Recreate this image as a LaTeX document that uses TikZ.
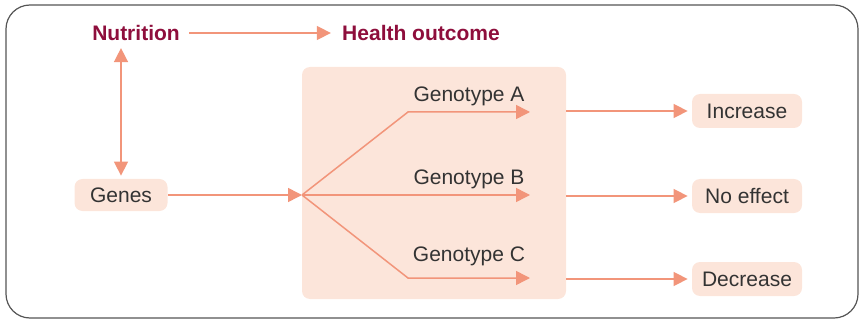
\documentclass[tikz,border=0pt]{standalone}
\usepackage{fontspec}
\setmainfont{Liberation Sans}
\usetikzlibrary{arrows.meta,positioning,calc}
\definecolor{salmon}{HTML}{F2957A}
\definecolor{peach}{HTML}{FCE5DA}
\definecolor{wine}{HTML}{8E0E3C}
\definecolor{ink}{HTML}{333333}
\definecolor{frame}{HTML}{555555}

\tikzset{
  label/.style={font=\fontsize{10.5}{12}\selectfont\bfseries, text=wine, inner sep=0pt},
  tag/.style={font=\fontsize{10.5}{12}\selectfont, text=ink, inner sep=0pt},
  box/.style={fill=peach, rounded corners=4pt, font=\fontsize{10.5}{12}\selectfont, text=ink, inner sep=0pt},
  link/.style={draw=salmon, line width=0.75pt, -{Triangle[length=7pt,width=7pt]}}
}

\begin{document}
\begin{tikzpicture}[x=0.5pt, y=-0.5pt]
    \useasboundingbox (0,0) rectangle (860,320);
    \draw[frame, line width=0.6pt, rounded corners=12pt] (6,5) rectangle (858,318);

    % top row
    \node[label] (nutr) at (136,33) {Nutrition};
    \node[label] (health) at (421,33) {Health outcome};
    \draw[link] ($(nutr.east)+(9,0)$) -- ($(health.west)+(-11,0)$);

    % genes and the genotype panel
    \node[box, minimum width=46.5pt, minimum height=16pt] (genes) at (121,195) {Genes};
    \node[box, minimum width=132pt, minimum height=116pt] (panel) at (434,183) {};
    \draw[link, {Triangle[length=7pt,width=7pt]}-{Triangle[length=7pt,width=7pt]}]
      ($(nutr.south)+(-15,7)$) -- ($(genes.north)+(0,-3)$);
    \coordinate (split) at (302,195);
    \draw[link] (genes.east) -- (split);

    % fan out to the genotypes
    \foreach \name/\ty/\ly in {A/112/96, B/195/179, C/278/256} {
      \node[tag] (g\name) at (469,\ly) {Genotype \name};
      \coordinate (tip\name) at (530,\ty);
      \draw[link] (split) -- ($(tip\name)+(-122,0)$) -- (tip\name);
    }

    % outcomes
    \foreach \name/\ty/\txt in {A/111/Increase, B/196/No effect, C/279/Decrease} {
      \node[box, minimum width=55pt, minimum height=17pt] (out\name) at (747,\ty) {\txt};
      \draw[link] (panel.east |- out\name.west) -- ($(out\name.west)+(-4,0)$);
    }
  \end{tikzpicture}
\end{document}
